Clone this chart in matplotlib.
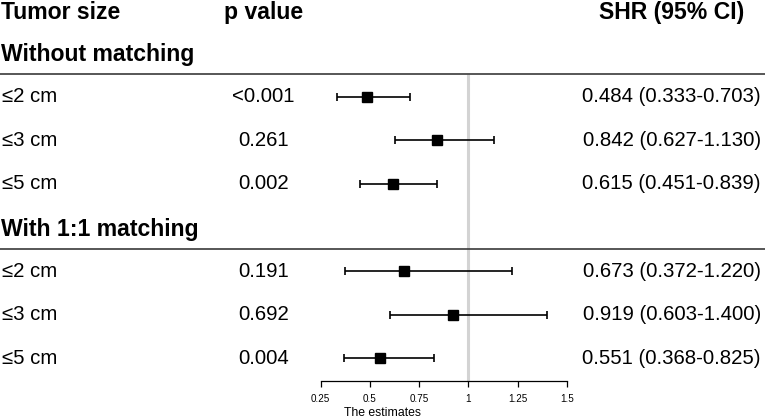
import numpy as np
import matplotlib
matplotlib.use('Agg')
import matplotlib.pyplot as plt

plt.rcParams['font.family'] = ['Liberation Sans', 'DejaVu Sans']

# data
groups = ['Without matching', 'With 1:1 matching']
sizes = ['≤2 cm', '≤3 cm', '≤5 cm', '≤2 cm', '≤3 cm', '≤5 cm']
p_values = ['<0.001', '0.261', '0.002', '0.191', '0.692', '0.004']
shr = np.array([0.484, 0.842, 0.615, 0.673, 0.919, 0.551])
lower = np.array([0.333, 0.627, 0.451, 0.372, 0.603, 0.368])
upper = np.array([0.703, 1.130, 0.839, 1.220, 1.400, 0.825])
ticks = [0.25, 0.5, 0.75, 1, 1.25, 1.5]
tick_labels = ['0.25', '0.5', '0.75', '1', '1.25', '1.5']

rows = [2, 3, 4, 6, 7, 8]
group_rows = [1.04, 5.04]
line_rows = [1.48, 5.49]
axis_row = 8.52

fig = plt.figure(figsize=(7.65, 4.18), dpi=100)
ax = fig.add_axes([0, 0, 1, 1])
ax.set_xlim(-1.378, 2.505)
ax.set_ylim(9.369, -0.218)
tr = ax.get_yaxis_transform()

# header
big = 16.6
small = 14.7
ax.text(0.001, 0.06, 'Tumor size', transform=tr, fontsize=big, fontweight='bold', va='center', ha='left')
ax.text(0.344, 0.06, 'p value', transform=tr, fontsize=big, fontweight='bold', va='center', ha='center')
ax.text(0.878, 0.06, 'SHR (95% CI)', transform=tr, fontsize=big, fontweight='bold', va='center', ha='center')

for g, gy, ly in zip(groups, group_rows, line_rows):
    ax.text(0.001, gy, g, transform=tr, fontsize=big, fontweight='bold', va='center', ha='left')
    ax.axhline(ly, color='#3a3a3a', lw=1.2)

for i, r in enumerate(rows):
    ax.text(0.003, r, sizes[i], transform=tr, fontsize=small, va='center', ha='left')
    ax.text(0.344, r, p_values[i], transform=tr, fontsize=small, va='center', ha='center')
    txt = '%.3f (%.3f-%.3f)' % (shr[i], lower[i], upper[i])
    ax.text(0.878, r, txt, transform=tr, fontsize=small, va='center', ha='center')

# reference line and estimates
ax.vlines(1, line_rows[0], axis_row, color='#d3d3d3', lw=2.2, zorder=0)
ax.errorbar(shr, rows, xerr=[shr - lower, upper - shr], fmt='s', color='black',
            ms=7, capsize=3, elinewidth=1.2, capthick=1.2)

# x axis
for s in ['top', 'left', 'right']:
    ax.spines[s].set_visible(False)
ax.spines['bottom'].set_position(('data', axis_row))
ax.spines['bottom'].set_bounds(ticks[0], ticks[-1])
ax.spines['bottom'].set_linewidth(0.9)
ax.set_yticks([])
ax.set_xticks(ticks)
ax.set_xticklabels(tick_labels)
ax.tick_params(axis='x', direction='out', length=4.3, width=0.9, labelsize=7.1, pad=5)
ax.set_xlabel('The estimates', fontsize=8.8, labelpad=2)

fig.savefig('out.png', dpi=100)
